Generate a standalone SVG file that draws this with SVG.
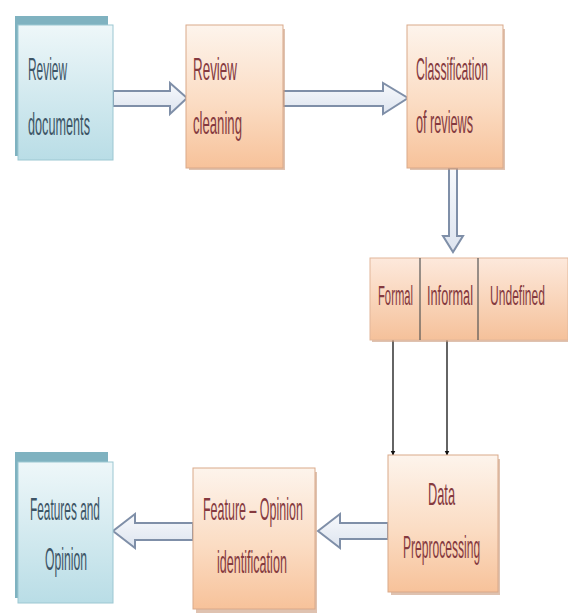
<svg xmlns="http://www.w3.org/2000/svg" width="568" height="614" viewBox="0 0 568 614">
<defs>
<linearGradient id="gO" x1="0" y1="0" x2="0" y2="1">
<stop offset="0" stop-color="#fdf4ec"/><stop offset="0.55" stop-color="#fbdcc3"/><stop offset="1" stop-color="#f7c29a"/>
</linearGradient>
<linearGradient id="gB" x1="0" y1="0" x2="0" y2="1">
<stop offset="0" stop-color="#eef7f9"/><stop offset="1" stop-color="#b9dde6"/>
</linearGradient>
<linearGradient id="gBar" x1="0" y1="0" x2="0" y2="1">
<stop offset="0" stop-color="#fde9dc"/><stop offset="1" stop-color="#f5c19a"/>
</linearGradient>
<linearGradient id="gA" x1="0" y1="0" x2="0" y2="1">
<stop offset="0" stop-color="#f7f9fc"/><stop offset="1" stop-color="#dde4ef"/>
</linearGradient>
<marker id="ah" viewBox="0 0 10 10" refX="9" refY="5" markerWidth="5" markerHeight="8" orient="auto" markerUnits="userSpaceOnUse">
<path d="M0,0 L10,5 L0,10 z" fill="#111"/>
</marker>
<style>
.ob{fill:url(#gO);stroke:#d9a98a;stroke-width:1}
.obs{fill:#c99a7c;opacity:0.6}
.bb{fill:url(#gB);stroke:#9cc7d2;stroke-width:1}
.bback{fill:#7fb2c0}
.to{font-family:"Liberation Sans",Arial,sans-serif;font-size:32px;fill:#853a3f}
.tc{font-family:"Liberation Sans",Arial,sans-serif;font-size:28px;fill:#853a3f}
.tb{font-family:"Liberation Sans",Arial,sans-serif;font-size:32px;fill:#3d5566}
.arr{fill:url(#gA);stroke:#7f8fa8;stroke-width:2}
.ln{stroke:#111;stroke-width:1.3;fill:none}
</style>
</defs>

<g id="connectors">
<polygon class="arr" points="113,91 170,91 170,83 187,98 170,114 170,106 113,106"/>
<polygon class="arr" points="283,91 383,91 383,83 408,98 383,114 383,106 283,106"/>
<polygon class="arr" points="449,168 449,236 443,236 453,252 463,236 457,236 457,168"/>
<line class="ln" x1="393" y1="340" x2="393" y2="455" marker-end="url(#ah)"/>
<line class="ln" x1="447" y1="340" x2="447" y2="455" marker-end="url(#ah)"/>
<polygon class="arr" points="388,523 340,523 340,514 318,531 340,548 340,539 388,539"/>
<polygon class="arr" points="193,523 135,523 135,514 113,531 135,548 135,540 193,540"/>
</g>

<g id="review-documents">
<rect class="bback" x="15" y="16" width="93" height="140"/>
<rect class="bb" x="18" y="25" width="95" height="135"/>
<text class="tb" transform="translate(28,80) scale(0.372,1)">Review</text>
<text class="tb" transform="translate(28,135) scale(0.396,1)">documents</text>
</g>

<g id="review-cleaning">
<rect class="obs" x="189" y="29" width="96" height="141"/>
<rect class="ob" x="186" y="25" width="97" height="143"/>
<text class="to" transform="translate(193,80) scale(0.419,1)">Review</text>
<text class="to" transform="translate(193,134) scale(0.411,1)">cleaning</text>
</g>

<g id="classification">
<rect class="obs" x="410" y="29" width="95" height="141"/>
<rect class="ob" x="407" y="25" width="96" height="143"/>
<text class="to" transform="translate(416,80) scale(0.382,1)">Classification</text>
<text class="to" transform="translate(416,133) scale(0.396,1)">of reviews</text>
</g>

<g id="categories">
<rect x="372" y="262" width="196" height="80" fill="#c99a7c" opacity="0.6"/>
<rect x="370" y="258" width="198" height="82" fill="url(#gBar)" stroke="#e2b699" stroke-width="1"/>
<line x1="420" y1="258" x2="420" y2="340" stroke="#555" stroke-width="1.2"/>
<line x1="478" y1="258" x2="478" y2="340" stroke="#555" stroke-width="1.2"/>
<text class="tc" transform="translate(378,305) scale(0.402,1)">Formal</text>
<text class="tc" transform="translate(427,305) scale(0.455,1)">Informal</text>
<text class="tc" transform="translate(490,305) scale(0.431,1)">Undefined</text>
</g>

<g id="data-preprocessing">
<rect class="obs" x="391" y="459" width="109" height="136"/>
<rect class="ob" x="388" y="455" width="110" height="137"/>
<text class="to" transform="translate(428,505) scale(0.40,1)">Data</text>
<text class="to" transform="translate(403,558) scale(0.377,1)">Preprocessing</text>
</g>

<g id="feature-opinion">
<rect class="obs" x="196" y="472" width="121" height="141"/>
<rect class="ob" x="193" y="468" width="122" height="141"/>
<text class="to" transform="translate(203,520) scale(0.39,1)">Feature – Opinion</text>
<text class="to" transform="translate(217,573) scale(0.393,1)">identification</text>
</g>

<g id="features-and-opinion">
<rect class="bback" x="15" y="452" width="93" height="146"/>
<rect class="bb" x="18" y="462" width="95" height="141"/>
<text class="tb" transform="translate(30,520) scale(0.371,1)">Features and</text>
<text class="tb" transform="translate(45,570) scale(0.381,1)">Opinion</text>
</g>
</svg>
